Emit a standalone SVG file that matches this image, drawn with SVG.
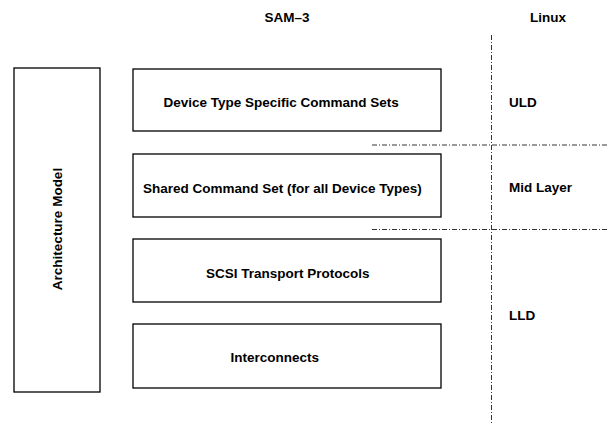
<svg xmlns="http://www.w3.org/2000/svg" width="609" height="425" viewBox="0 0 609 425">
<style>
.box{fill:#fff;stroke:#000;stroke-width:1.3}
.t{font-family:"Liberation Sans",Arial,sans-serif;font-weight:bold;font-size:13.5px;fill:#000}
.dd{stroke:#000;stroke-width:0.8;stroke-dasharray:5,2,1,2;fill:none}
</style>
<rect width="609" height="425" fill="#fff"/>
<g id="connectors">
<line class="dd" x1="491.5" y1="35" x2="491.5" y2="425"/>
<line class="dd" x1="372" y1="145" x2="609" y2="145"/>
<line class="dd" x1="372" y1="229.5" x2="609" y2="229.5"/>
</g>
<g id="headers">
<text class="t" x="287" y="22" text-anchor="middle">SAM–3</text>
<text class="t" x="548" y="22" text-anchor="middle">Linux</text>
</g>
<g id="arch"><rect class="box" x="14" y="68" width="86" height="324"/>
<text class="t" transform="translate(62,229) rotate(-90)" text-anchor="middle">Architecture Model</text></g>
<g id="n1"><rect class="box" x="133" y="69" width="308" height="62"/>
<text class="t" x="163.5" y="107.3">Device Type Specific Command Sets</text></g>
<g id="n2"><rect class="box" x="133" y="154" width="308" height="63"/>
<text class="t" x="143" y="193.3">Shared Command Set (for all Device Types)</text></g>
<g id="n3"><rect class="box" x="133" y="239" width="308" height="63"/>
<text class="t" x="206" y="277.7">SCSI Transport Protocols</text></g>
<g id="n4"><rect class="box" x="133" y="324" width="308" height="64"/>
<text class="t" x="230.5" y="361.7">Interconnects</text></g>
<g id="uld"><text class="t" x="509" y="106.7">ULD</text></g>
<g id="mid"><text class="t" x="509" y="191.7">Mid Layer</text></g>
<g id="lld"><text class="t" x="509" y="320">LLD</text></g>
</svg>
